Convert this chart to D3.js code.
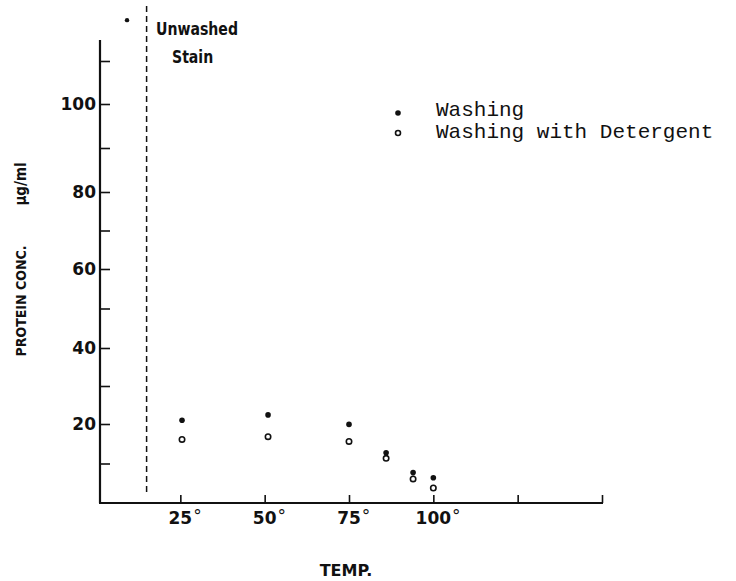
<!DOCTYPE html>
<html>
<head>
<meta charset="utf-8">
<script src="https://cdn.jsdelivr.net/npm/d3@7/dist/d3.min.js"></script>
<style>
  html, body { margin: 0; padding: 0; background: #fff; }
  svg { display: block; }
  .bold { font-family: "DejaVu Sans", sans-serif; font-weight: bold; fill: #111; }
  .cond { font-family: "DejaVu Sans Condensed", "Liberation Sans Narrow", "DejaVu Sans", sans-serif; font-weight: bold; fill: #111; }
  .mono { font-family: "Liberation Mono", "Courier New", monospace; fill: #111; }
</style>
</head>
<body>
<script>
// ---- data ----
const temps      = [25.5, 51, 75, 86, 94, 100];
const washing    = [21.0, 22.4, 19.9, 12.7, 7.7, 6.4];
const detergent  = [16.1, 16.8, 15.6, 11.3, 6.1, 3.8];
const unwashedTemp = [9.2];
const unwashedValue = [119.5];
const stainDivider = [15];
const yLabelTicks = [20, 40, 60, 80, 100];
const yMinorTicks = [10, 30, 50, 70, 90, 110];
const xTicks = [25, 50, 75, 100, 125, 150];
const xLabelTicks = [25, 50, 75, 100];
const legendLabels = ["Washing", "Washing with Detergent"];

const W = 736, H = 581;
const svg = d3.select("body").append("svg").attr("width", W).attr("height", H);

// hand-drawn axis: slightly uneven spacing, captured via a polylinear scale
const y = d3.scaleLinear()
  .domain([0, 20, 40, 60, 80, 100, 110])
  .range([503, 424, 348, 269, 192, 104, 61]);
const x = d3.scaleLinear().domain([0, 150]).range([96, 602]);

const X0 = 100, Y0 = 503;

// y axis line
svg.append("line").attr("x1", X0).attr("x2", X0).attr("y1", 40).attr("y2", Y0)
  .attr("stroke", "#111").attr("stroke-width", 2.2);
// x axis line
svg.append("line").attr("x1", X0 - 1).attr("x2", x(150) + 1).attr("y1", Y0).attr("y2", Y0)
  .attr("stroke", "#111").attr("stroke-width", 2.2);

// y ticks (pointing right)
const yAxis = d3.axisRight(y).tickValues(yLabelTicks.concat(yMinorTicks)).tickSize(10).tickFormat("");
const gy = svg.append("g").attr("transform", `translate(${X0},0)`).call(yAxis);
gy.select(".domain").remove();
gy.selectAll(".tick line").attr("stroke", "#111").attr("stroke-width", 1.6);

// y labels
svg.selectAll("text.ylab").data(yLabelTicks).enter().append("text")
  .attr("class", "bold ylab")
  .attr("x", X0 - 4).attr("y", d => y(d) + 6)
  .attr("text-anchor", "end").attr("font-size", 17)
  .text(d => d);

// x ticks (pointing up)
const xAxis = d3.axisTop(x).tickValues(xTicks).tickSize(8).tickFormat("");
const gx = svg.append("g").attr("transform", `translate(0,${Y0})`).call(xAxis);
gx.select(".domain").remove();
gx.selectAll(".tick line").attr("stroke", "#111").attr("stroke-width", 1.6);

// x labels with degree sign
xLabelTicks.forEach(t => {
  const txt = svg.append("text").attr("class", "bold").attr("font-size", 17)
    .attr("x", x(t)).attr("y", 524).attr("text-anchor", "middle").text(t);
  const w = txt.node().getComputedTextLength();
  svg.append("text").attr("class", "bold").attr("font-size", 17)
    .attr("x", x(t) + w / 2 + 1).attr("y", 522).text("°").style("font-weight", "normal");
});

// dashed divider line
svg.selectAll("line.div").data(stainDivider).enter().append("line")
  .attr("class", "div")
  .attr("x1", d => x(d)).attr("x2", d => x(d))
  .attr("y1", 6).attr("y2", 496)
  .attr("stroke", "#111").attr("stroke-width", 1.5)
  .attr("stroke-dasharray", "6,4");

// unwashed stain point
svg.selectAll("circle.unw").data(unwashedTemp).enter().append("circle")
  .attr("class", "unw")
  .attr("cx", d => x(d)).attr("cy", (d, i) => y(unwashedValue[i]))
  .attr("r", 2.2).attr("fill", "#111");

svg.append("text").attr("class", "cond").attr("font-size", 18)
  .attr("transform", "translate(156,35) scale(0.87,1)").text("Unwashed");
svg.append("text").attr("class", "cond").attr("font-size", 18)
  .attr("transform", "translate(172,63) scale(0.87,1)").text("Stain");

// data points
svg.selectAll("circle.wash").data(temps).enter().append("circle")
  .attr("class", "wash")
  .attr("cx", d => x(d)).attr("cy", (d, i) => y(washing[i]))
  .attr("r", 2.8).attr("fill", "#111");
svg.selectAll("circle.det").data(temps).enter().append("circle")
  .attr("class", "det")
  .attr("cx", d => x(d)).attr("cy", (d, i) => y(detergent[i]))
  .attr("r", 2.7).attr("fill", "#fff").attr("stroke", "#111").attr("stroke-width", 1.6);

// legend
svg.append("circle").attr("cx", 398).attr("cy", 113).attr("r", 2.8).attr("fill", "#111");
svg.append("circle").attr("cx", 398).attr("cy", 133).attr("r", 2.5)
  .attr("fill", "#fff").attr("stroke", "#111").attr("stroke-width", 1.6);
svg.selectAll("text.leg").data(legendLabels).enter().append("text")
  .attr("class", "mono leg").attr("font-size", 21)
  .attr("x", 436).attr("y", (d, i) => 116 + i * 22)
  .text(d => d);

// axis titles
svg.append("text").attr("class", "bold").attr("font-size", 16)
  .attr("x", 346).attr("y", 576).attr("text-anchor", "middle").text("TEMP.");

svg.append("text").attr("class", "cond").attr("font-size", 14)
  .attr("transform", "translate(26,301) rotate(-90)")
  .attr("text-anchor", "middle").text("PROTEIN CONC.");
svg.append("text").attr("class", "cond").attr("font-size", 15)
  .attr("transform", "translate(26,184) rotate(-90)")
  .attr("text-anchor", "middle").text("µg/ml");
</script>
</body>
</html>
